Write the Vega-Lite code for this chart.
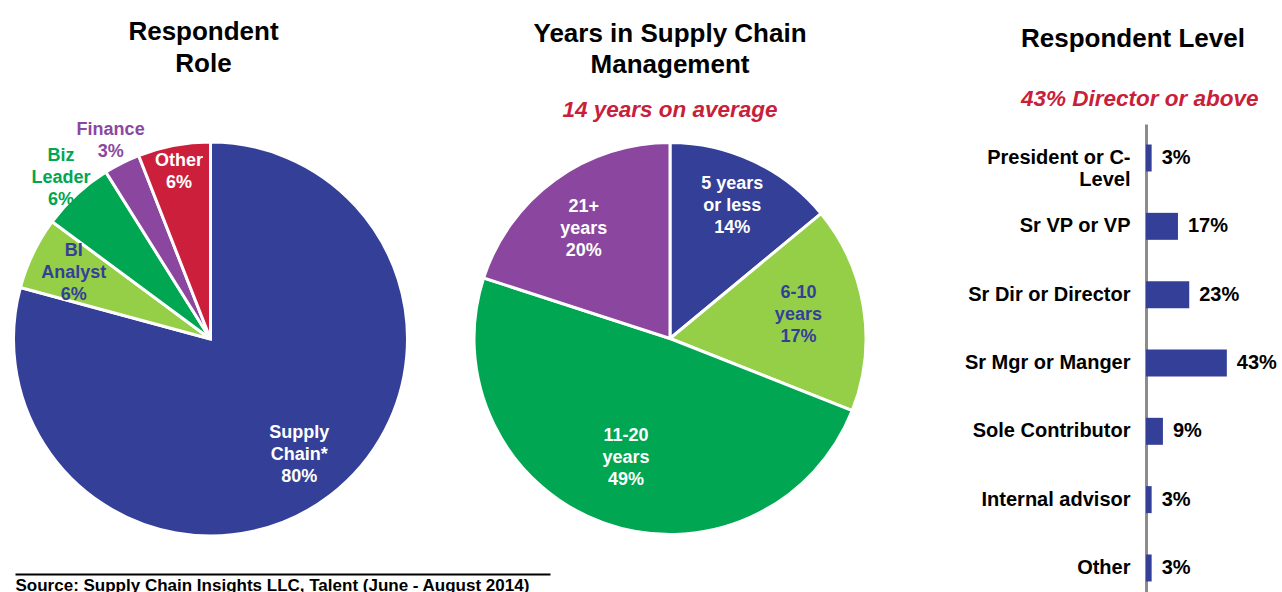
{
  "$schema": "https://vega.github.io/schema/vega-lite/v6.json",
  "background": "white",
  "autosize": {"type": "pad"},
  "padding": {"left": 7, "top": 18, "right": 0, "bottom": 0},
  "bounds": "flush",
  "spacing": 10,
  "config": {
    "view": {"stroke": null},
    "font": "Liberation Sans",
    "title": {
      "font": "Liberation Sans", "fontSize": 26, "fontWeight": "bold", "color": "black",
      "anchor": "middle", "frame": "group",
      "subtitleFont": "Liberation Sans", "subtitleFontSize": 22.5, "subtitleFontStyle": "italic",
      "subtitleFontWeight": "bold", "subtitleColor": "#C8203A"
    },
    "text": {"font": "Liberation Sans"}
  },
  "hconcat": [
    {
      "width": 391,
      "height": 430,
      "title": {"text": ["Respondent", "Role"], "lineHeight": 32, "offset": 15, "dx": -7},
      "data": {"values": [
        {"role": "Supply Chain", "label": "Supply\nChain*\n80%", "pct": 80, "k": 1},
        {"role": "BI Analyst", "label": "BI\nAnalyst\n6%", "pct": 6, "k": 2},
        {"role": "Biz Leader", "label": "Biz\nLeader\n6%", "pct": 6, "k": 3},
        {"role": "Finance", "label": "Finance\n3%", "pct": 3, "k": 4},
        {"role": "Other", "label": "Other\n6%", "pct": 6, "k": 5}
      ]},
      "layer": [
        {
          "mark": {"type": "arc", "radius": 197, "stroke": "white", "strokeWidth": 3},
          "encoding": {
            "theta": {"field": "pct", "type": "quantitative", "stack": true},
            "order": {"field": "k", "type": "quantitative", "sort": "ascending"},
            "color": {"field": "role", "type": "nominal", "legend": null,
              "scale": {"domain": ["Supply Chain", "BI Analyst", "Biz Leader", "Finance", "Other"],
                        "range": ["#343F98", "#95CF48", "#00A651", "#8B479F", "#CC1F3C"]}}
          }
        },
        {
          "mark": {"type": "text", "radius": 146, "dy": -22, "fontSize": 18, "fontWeight": "bold", "lineBreak": "\n", "lineHeight": 22, "align": "center", "baseline": "middle", "color": "white"},
          "encoding": {
            "theta": {"field": "pct", "type": "quantitative", "stack": true},
            "order": {"field": "k", "type": "quantitative", "sort": "ascending"},
            "text": {"condition": {"test": "datum.role == 'Supply Chain'", "field": "label", "type": "nominal"}, "value": ""},
            "detail": {"field": "role", "type": "nominal"}
          }
        },
        {
          "mark": {"type": "text", "radius": 152, "dy": -22, "fontSize": 18, "fontWeight": "bold", "lineBreak": "\n", "lineHeight": 22, "align": "center", "baseline": "middle", "color": "#343F98"},
          "encoding": {
            "theta": {"field": "pct", "type": "quantitative", "stack": true},
            "order": {"field": "k", "type": "quantitative", "sort": "ascending"},
            "text": {"condition": {"test": "datum.role == 'BI Analyst'", "field": "label", "type": "nominal"}, "value": ""},
            "detail": {"field": "role", "type": "nominal"}
          }
        },
        {
          "mark": {"type": "text", "radius": 170, "dy": -11, "fontSize": 18, "fontWeight": "bold", "lineBreak": "\n", "lineHeight": 22, "align": "center", "baseline": "middle", "color": "white"},
          "encoding": {
            "theta": {"field": "pct", "type": "quantitative", "stack": true},
            "order": {"field": "k", "type": "quantitative", "sort": "ascending"},
            "text": {"condition": {"test": "datum.role == 'Other'", "field": "label", "type": "nominal"}, "value": ""},
            "detail": {"field": "role", "type": "nominal"}
          }
        },
        {
          "mark": {"type": "text", "radius": 220, "dy": -22, "fontSize": 18, "fontWeight": "bold", "lineBreak": "\n", "lineHeight": 22, "align": "center", "baseline": "middle", "color": "#00A651"},
          "encoding": {
            "theta": {"field": "pct", "type": "quantitative", "stack": true},
            "order": {"field": "k", "type": "quantitative", "sort": "ascending"},
            "text": {"condition": {"test": "datum.role == 'Biz Leader'", "field": "label", "type": "nominal"}, "value": ""},
            "detail": {"field": "role", "type": "nominal"}
          }
        },
        {
          "mark": {"type": "text", "radius": 222, "dy": -11, "fontSize": 18, "fontWeight": "bold", "lineBreak": "\n", "lineHeight": 22, "align": "center", "baseline": "middle", "color": "#8B479F"},
          "encoding": {
            "theta": {"field": "pct", "type": "quantitative", "stack": true},
            "order": {"field": "k", "type": "quantitative", "sort": "ascending"},
            "text": {"condition": {"test": "datum.role == 'Finance'", "field": "label", "type": "nominal"}, "value": ""},
            "detail": {"field": "role", "type": "nominal"}
          }
        },
        {
          "mark": {"type": "point", "opacity": 0},
          "encoding": {
            "x": {"field": "pct", "type": "quantitative", "scale": {"range": [0, 535]},
              "axis": {"orient": "bottom", "offset": 20, "domainColor": "black", "domainWidth": 2,
                "labels": false, "ticks": false, "grid": false,
                "title": "Source:  Supply Chain Insights LLC, Talent (June - August 2014)",
                "titleAnchor": "start", "titleAlign": "left", "titleFontSize": 17, "titleFontWeight": "bold",
                "titleColor": "black", "titleFont": "Liberation Sans", "titlePadding": 3}}
          }
        }
      ]
    },
    {
      "width": 508,
      "height": 429,
      "title": {"text": ["Years in Supply Chain", "Management"], "lineHeight": 31, "subtitle": "14 years on average", "subtitlePadding": 21, "offset": 3},
      "data": {"values": [
        {"yrs": "5 years or less", "label": "5 years\nor less\n14%", "pct": 14, "k": 1},
        {"yrs": "6-10 years", "label": "6-10\nyears\n17%", "pct": 17, "k": 2},
        {"yrs": "11-20 years", "label": "11-20\nyears\n49%", "pct": 49, "k": 3},
        {"yrs": "21+ years", "label": "21+\nyears\n20%", "pct": 20, "k": 4}
      ]},
      "encoding": {
        "theta": {"field": "pct", "type": "quantitative", "stack": true},
        "order": {"field": "k", "type": "quantitative", "sort": "ascending"}
      },
      "layer": [
        {
          "mark": {"type": "arc", "radius": 196, "stroke": "white", "strokeWidth": 3},
          "encoding": {
            "color": {"field": "yrs", "type": "nominal", "legend": null,
              "scale": {"domain": ["5 years or less", "6-10 years", "11-20 years", "21+ years"],
                        "range": ["#343F98", "#95CF48", "#00A651", "#8B479F"]}}
          }
        },
        {
          "mark": {"type": "text", "radius": 146, "dy": -22, "fontSize": 18, "fontWeight": "bold", "lineBreak": "\n", "lineHeight": 22, "align": "center", "baseline": "middle", "color": "white"},
          "encoding": {
            "text": {"condition": {"test": "datum.yrs == '5 years or less'", "field": "label", "type": "nominal"}, "value": ""},
            "detail": {"field": "yrs", "type": "nominal"}
          }
        },
        {
          "mark": {"type": "text", "radius": 140, "dy": -18, "dx": -4, "fontSize": 18, "fontWeight": "bold", "lineBreak": "\n", "lineHeight": 22, "align": "center", "baseline": "middle", "color": "white"},
          "encoding": {
            "text": {"condition": {"test": "datum.yrs == '21+ years'", "field": "label", "type": "nominal"}, "value": ""},
            "detail": {"field": "yrs", "type": "nominal"}
          }
        },
        {
          "mark": {"type": "text", "radius": 130, "dy": -25, "fontSize": 18, "fontWeight": "bold", "lineBreak": "\n", "lineHeight": 22, "align": "center", "baseline": "middle"},
          "encoding": {
            "text": {"condition": {"test": "datum.yrs == '6-10 years' || datum.yrs == '11-20 years'", "field": "label", "type": "nominal"}, "value": ""},
            "detail": {"field": "yrs", "type": "nominal"},
            "color": {"condition": {"test": "datum.yrs == '6-10 years'", "value": "#343F98"}, "value": "white"}
          }
        }
      ]
    },
    {
      "width": 353,
      "height": 469,
      "title": {"text": "Respondent Level", "subtitle": "43% Director or above", "anchor": "start", "dx": 87, "offset": 14, "subtitlePadding": 36},
      "data": {"values": [
        {"level": "President or C-Level", "v": 0.03},
        {"level": "Sr VP or VP", "v": 0.17},
        {"level": "Sr Dir or Director", "v": 0.23},
        {"level": "Sr Mgr or Manger", "v": 0.43},
        {"level": "Sole Contributor", "v": 0.09},
        {"level": "Internal advisor", "v": 0.03},
        {"level": "Other", "v": 0.03}
      ]},
      "encoding": {
        "y": {"field": "level", "type": "nominal", "sort": null,
          "scale": {"paddingInner": 0.605, "paddingOuter": 0.2345, "align": 0.64},
          "axis": {"title": null, "ticks": false, "tickSize": 0, "offset": -212, "domainColor": "#8C8C8C", "domainWidth": 3,
            "labelFontSize": 20, "labelFontWeight": "bold", "labelColor": "black", "labelFont": "Liberation Sans",
            "labelPadding": 16, "labelLimit": 400, "labelLineHeight": 22,
            "labelExpr": "datum.value == 'President or C-Level' ? ['President or C-', 'Level'] : datum.value"}},
        "x": {"field": "v", "type": "quantitative", "scale": {"domain": [0, 0.75], "range": [212, 353]}, "axis": null}
      },
      "layer": [
        {"mark": {"type": "bar", "color": "#343F98"}},
        {
          "mark": {"type": "text", "align": "left", "baseline": "middle", "dx": 10, "fontSize": 20, "fontWeight": "bold", "color": "black"},
          "encoding": {"text": {"field": "v", "type": "quantitative", "format": ".0%"}}
        }
      ]
    }
  ]
}
